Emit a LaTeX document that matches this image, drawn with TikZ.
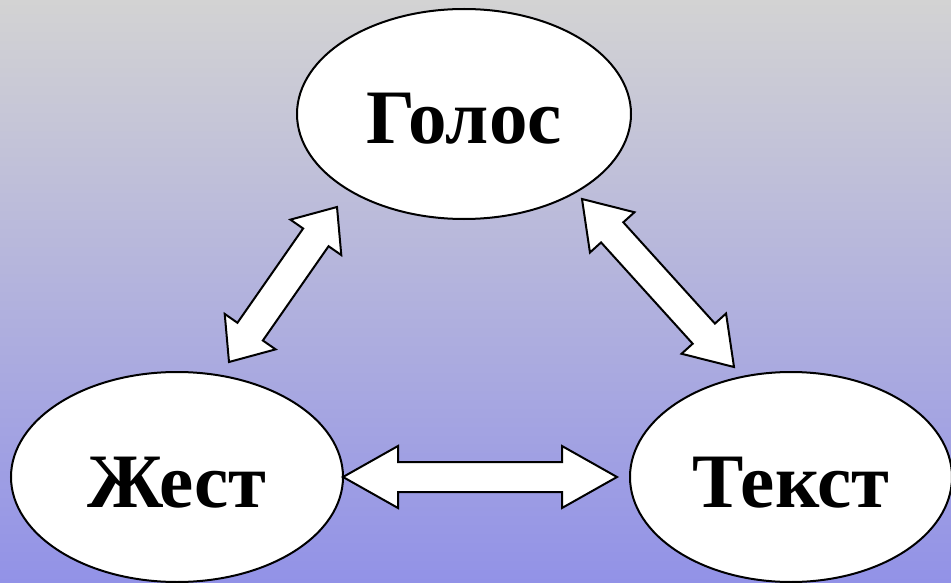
\documentclass[tikz,border=0pt]{standalone}
\usepackage{fontspec}
\setmainfont{Liberation Serif}
\usetikzlibrary{calc,shapes.geometric}
\definecolor{bgtop}{RGB}{211,211,211}
\definecolor{bgbot}{RGB}{146,146,231}
\tikzset{
  oval/.style={ellipse,draw=black,line width=2pt,fill=white,inner sep=0pt,
    text height=60pt,text depth=0pt,
    font=\fontsize{77}{80}\selectfont\bfseries},
  blockarrow/.style={draw=black,line width=2pt,fill=white,line join=miter}
}
% #1 start, #2 end, #3 head length, #4 head half-width, #5 shaft half-width
\newcommand\dblarrow[5]{%
  \draw[blockarrow] (#1)
    -- ($(#1)!#3!(#2)!#4!90:(#2)$)
    -- ($(#1)!#3!(#2)!#5!90:(#2)$)
    -- ($(#2)!#3!(#1)!#5!-90:(#1)$)
    -- ($(#2)!#3!(#1)!#4!-90:(#1)$)
    -- (#2)
    -- ($(#2)!#3!(#1)!#4!90:(#1)$)
    -- ($(#2)!#3!(#1)!#5!90:(#1)$)
    -- ($(#1)!#3!(#2)!#5!-90:(#2)$)
    -- ($(#1)!#3!(#2)!#4!-90:(#2)$)
    -- cycle;}
\begin{document}
\begin{tikzpicture}[x=1pt,y=-1pt]
  \shade[top color=bgtop,bottom color=bgbot] (0,0) rectangle (951,583);
  \useasboundingbox (0,0) rectangle (951,583);
  \node[oval,minimum width=334pt,minimum height=210pt] (golos) at (464,114) {Голос};
  \node[oval,minimum width=332pt,minimum height=210pt] (zhest) at (177,477) {Жест};
  \node[oval,minimum width=322pt,minimum height=210pt] (tekst) at (791,477) {Текст};
  % arrow end points near the ovals
  \coordinate (zg) at (229,362);
  \coordinate (gz) at (337,207);
  \coordinate (gt) at (582,199);
  \coordinate (tg) at (734,367);
  \coordinate (zt) at (343,477);
  \coordinate (tz) at (617,477);
  \dblarrow{zg}{gz}{37pt}{31pt}{15.5pt}
  \dblarrow{gt}{tg}{45pt}{30pt}{15pt}
  \dblarrow{zt}{tz}{55pt}{31pt}{15pt}
\end{tikzpicture}
\end{document}
